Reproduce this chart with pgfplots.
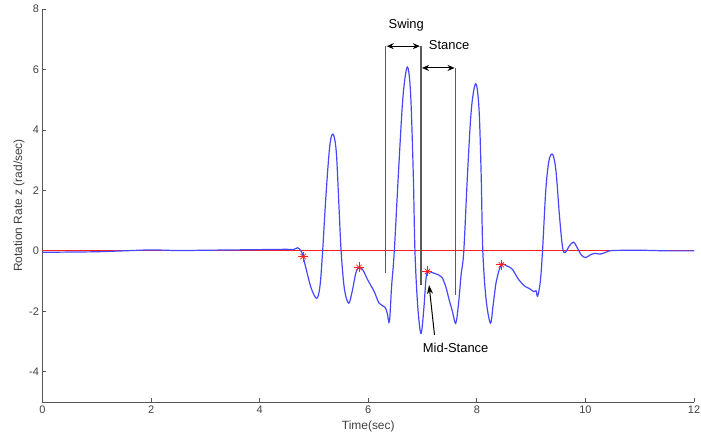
\documentclass[border=0pt]{standalone}
\usepackage{pgfplots}
\pgfplotsset{compat=1.18}
\usepackage{fontspec}
\setmainfont{Liberation Sans}
\usetikzlibrary{arrows.meta}
\definecolor{mblue}{RGB}{70,70,255}
\definecolor{mred}{RGB}{255,30,30}
\definecolor{axgray}{RGB}{85,85,85}
\definecolor{tickgray}{RGB}{65,65,65}
\definecolor{anngray}{RGB}{90,90,90}
\begin{document}
\begin{tikzpicture}
\begin{axis}[
  scale only axis, width=651.5bp, height=393bp,
  xmin=0, xmax=12, ymin=-5, ymax=8,
  axis lines=left,
  axis line style={axgray, line width=0.8bp, -},
  xtick={0,2,...,12}, ytick={-4,-2,...,8},
  tick align=inside, major tick length=4bp,
  tick style={axgray, line width=0.8bp},
  ticklabel style={font=\fontsize{11}{12}\selectfont, text=tickgray},
  /pgf/number format/assume math mode=true,
  xlabel={Time(sec)}, ylabel={Rotation Rate z (rad/sec)},
  label style={font=\fontsize{12}{13}\selectfont, text=tickgray},
  xlabel style={at={(axis description cs:0.5,-0.0628)}, anchor=center},
  ylabel style={at={(axis description cs:-0.036,0.5)}, anchor=center},
  clip=false,
]
% zero reference line
\addplot[mred, line width=1.2bp] coordinates {(0,0) (12,0)};
% rotation rate signal
\addplot[mblue, line width=1.2bp, smooth, tension=0.55] coordinates {
(0,-0.05) (0.5,-0.04) (1,-0.03) (1.5,0.0) (2,0.03) (2.5,0.01) (3,0.02)
(3.5,0.03) (4,0.04) (4.5,0.05) (4.62,0.04) (4.7,0.1) (4.76,0.0)
(4.80,-0.19) (4.86,-0.63) (4.95,-1.24) (5.05,-1.57) (5.11,-1.18)
(5.16,0.0) (5.22,1.8) (5.29,3.45) (5.35,3.86) (5.41,3.3) (5.46,1.5)
(5.50,0.0) (5.56,-1.25) (5.64,-1.73) (5.71,-1.29) (5.77,-0.74)
(5.83,-0.55) (5.90,-0.63) (5.99,-0.96) (6.11,-1.35) (6.20,-1.73)
(6.31,-1.87) (6.35,-2.07) (6.39,-2.34) (6.43,-1.18) (6.48,0.0)
(6.56,2.7) (6.64,5.1) (6.72,6.08) (6.78,5.2) (6.83,2.5) (6.86,0.0)
(6.91,-1.8) (6.97,-2.73) (7.02,-2.0) (7.06,-1.0) (7.09,-0.68)
(7.15,-0.70) (7.21,-0.74) (7.30,-0.80) (7.36,-0.88) (7.43,-1.2)
(7.49,-1.62) (7.55,-2.0) (7.61,-2.4) (7.66,-1.8) (7.71,-0.8)
(7.76,0.0) (7.83,2.6) (7.90,4.7) (7.98,5.53) (8.04,4.7) (8.08,2.5)
(8.11,0.0) (8.17,-1.6) (8.25,-2.39) (8.30,-1.8) (8.36,-1.0)
(8.45,-0.46) (8.55,-0.5) (8.65,-0.6) (8.77,-0.95) (8.89,-1.18)
(8.97,-1.25) (9.05,-1.35) (9.09,-1.32) (9.12,-1.5) (9.17,-1.0)
(9.21,0.0) (9.27,2.0) (9.33,3.0) (9.40,3.18) (9.46,2.6) (9.52,1.2)
(9.58,0.1) (9.63,-0.05) (9.70,0.15) (9.78,0.29) (9.85,0.1)
(9.93,-0.15) (10.01,-0.22) (10.1,-0.12) (10.18,-0.08) (10.27,-0.11)
(10.4,-0.03) (10.5,0.01) (11,0.02) (11.5,0.0) (12,0.0)
};
% markers
\addplot[only marks, mark=+, mark size=5bp, mred, mark options={line width=0.7bp}]
  coordinates {(4.80,-0.19) (5.83,-0.55) (7.09,-0.68) (8.45,-0.46)};
\addplot[only marks, mark=x, mark size=3.8bp, mred, mark options={line width=0.7bp}]
  coordinates {(4.80,-0.19) (5.83,-0.55) (7.09,-0.68) (8.45,-0.46)};
% annotation lines
\addplot[anngray, line width=1.5bp] coordinates {(6.32,-0.74) (6.32,6.77)};
\addplot[anngray, line width=1.5bp] coordinates {(6.97,-1.13) (6.97,6.77)};
\addplot[anngray, line width=1.5bp] coordinates {(7.61,-1.46) (7.61,6.05)};
\draw[{Stealth[length=7bp,width=6bp]}-{Stealth[length=7bp,width=6bp]}, line width=1bp]
  (axis cs:6.34,6.77) -- (axis cs:6.95,6.77);
\draw[{Stealth[length=7bp,width=6bp]}-{Stealth[length=7bp,width=6bp]}, line width=1bp]
  (axis cs:6.99,6.05) -- (axis cs:7.59,6.05);
\draw[-{Stealth[length=9bp,width=6bp]}, line width=1bp]
  (axis cs:7.22,-2.78) -- (axis cs:7.12,-1.13);
\node[font=\fontsize{13}{14}\selectfont] at (axis cs:6.70,7.45) {Swing};
\node[font=\fontsize{13}{14}\selectfont] at (axis cs:7.49,6.82) {Stance};
\node[font=\fontsize{13}{14}\selectfont] at (axis cs:7.61,-3.20) {Mid-Stance};
\end{axis}
\pgfresetboundingbox
\path[use as bounding box] ([shift={(-42.5bp,-36bp)}]current axis.south west)
  rectangle ([shift={(7bp,9bp)}]current axis.north east);
\end{tikzpicture}
\end{document}
